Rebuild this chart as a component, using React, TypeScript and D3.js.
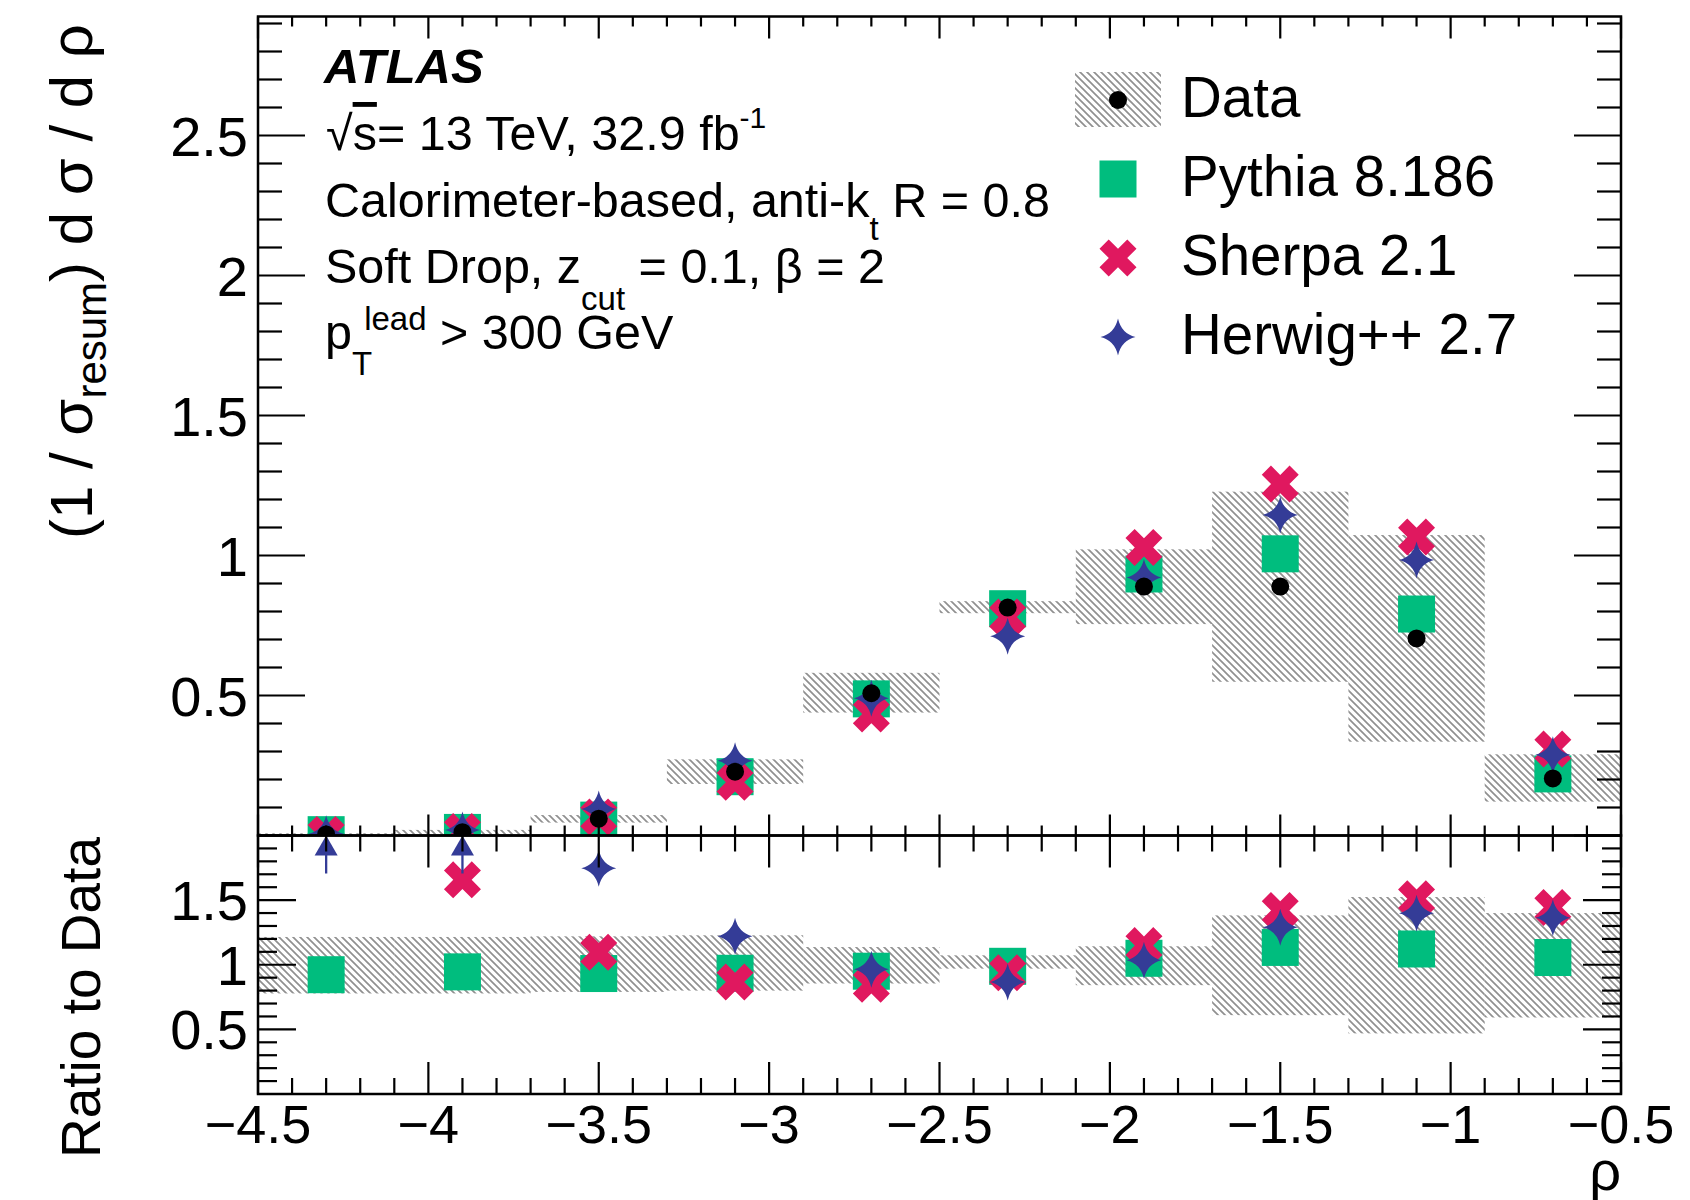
import React from 'react';
import * as d3 from 'd3';

// ---------- data ----------
const binCenters = [-4.3, -3.9, -3.5, -3.1, -2.7, -2.3, -1.9, -1.5, -1.1, -0.7];
const binWidth = 0.4;

const dataValues = [0.004, 0.012, 0.06, 0.228, 0.508, 0.814, 0.889, 0.889, 0.704, 0.204];
const dataLow = [0.002, 0.004, 0.046, 0.184, 0.439, 0.794, 0.755, 0.549, 0.335, 0.121];
const dataHigh = [0.008, 0.02, 0.073, 0.272, 0.581, 0.837, 1.022, 1.228, 1.073, 0.29];

const pythiaValues = [0.003, 0.011, 0.055, 0.21, 0.488, 0.81, 0.934, 1.006, 0.791, 0.22];
const sherpaValues = [0.004, 0.014, 0.066, 0.19, 0.434, 0.78, 1.029, 1.255, 1.066, 0.309];
const herwigValues = [0.006, 0.02, 0.095, 0.267, 0.49, 0.712, 0.921, 1.145, 0.984, 0.288];

const ratioPythia = [0.923, 0.945, 0.932, 0.934, 0.95, 0.988, 1.05, 1.134, 1.122, 1.056];
const ratioSherpa: (number | null)[] = [null, 1.657, 1.097, 0.867, 0.849, 0.938, 1.148, 1.42, 1.511, 1.443];
const ratioHerwig = [2.5, 2.5, 1.747, 1.22, 0.965, 0.867, 1.035, 1.29, 1.398, 1.363];
const ratioLow = [0.778, 0.778, 0.79, 0.8, 0.855, 0.97, 0.842, 0.61, 0.469, 0.592];
const ratioHigh = [1.215, 1.215, 1.22, 1.228, 1.137, 1.073, 1.143, 1.382, 1.524, 1.4];

const xTickLabels = [-4.5, -4, -3.5, -3, -2.5, -2, -1.5, -1, -0.5];
const mainYTickLabels = [0.5, 1, 1.5, 2, 2.5];
const ratioYTickLabels = [0.5, 1, 1.5];
const legendLabels = ['Data', 'Pythia 8.186', 'Sherpa 2.1', 'Herwig++ 2.7'];

// ---------- style ----------
const GREEN = '#00bd7e';
const PINK = '#e0185f';
const BLUE = '#343c97';
const HATCH = '#909090';
const FONT = '"Liberation Sans", Arial, Helvetica, sans-serif';

const W = 1690;
const H = 1200;
const xL = 258;
const xR = 1621;
const mainTop = 16.5;
const mainBot = 835.5;
const ratioBot = 1094;

const x = d3.scaleLinear().domain([-4.5, -0.5]).range([xL, xR]);
const yMain = d3.scaleLinear().domain([0, 2.925]).range([mainBot, mainTop]);
const yRatio = d3.scaleLinear().domain([0, 2]).range([ratioBot, mainBot]);

const fmt = (d: number) => (d < 0 ? '\u2212' : '') + String(Math.abs(d));

// ---------- markers ----------
const Square = ({ cx, cy }: { cx: number; cy: number }) => (
  <rect x={cx - 18.5} y={cy - 18.5} width={37} height={37} fill={GREEN} />
);

const crossPath = (() => {
  const s = 18.5;
  const e = 9.2;
  const pts = [
    [0, -e], [s - e, -s], [s, -s + e], [e, 0], [s, s - e], [s - e, s],
    [0, e], [-s + e, s], [-s, s - e], [-e, 0], [-s, -s + e], [-s + e, -s],
  ];
  return 'M' + pts.map((p) => p.join(',')).join('L') + 'Z';
})();

const Cross = ({ cx, cy }: { cx: number; cy: number }) => (
  <path d={crossPath} transform={`translate(${cx},${cy})`} fill={PINK} />
);

const starPath = (() => {
  const rv = 18.5;
  const rh = 17.5;
  const c = 3.4;
  return `M0,${-rv} Q${c},${-c} ${rh},0 Q${c},${c} 0,${rv} Q${-c},${c} ${-rh},0 Q${-c},${-c} 0,${-rv} Z`;
})();

const Star = ({ cx, cy }: { cx: number; cy: number }) => (
  <path d={starPath} transform={`translate(${cx},${cy})`} fill={BLUE} />
);

const Dot = ({ cx, cy }: { cx: number; cy: number }) => (
  <circle cx={cx} cy={cy} r={9} fill="#000" />
);

// ---------- axes helpers ----------
const range = (a: number, b: number, step: number) => {
  const out: number[] = [];
  const n = Math.round((b - a) / step);
  for (let i = 0; i <= n; i++) out.push(+(a + i * step).toFixed(4));
  return out;
};
const isMajor = (v: number) => Math.abs(v * 2 - Math.round(v * 2)) < 1e-6;

const xTicksAll = range(-4.5, -0.5, 0.1);
const mainYTicksAll = range(0, 2.9, 0.1);
const ratioYTicksAll = range(0, 2, 0.1);

export default function App() {
  const tickStroke = { stroke: '#000', strokeWidth: 2.2 };

  return (
    <svg
      width={W}
      height={H}
      viewBox={`0 0 ${W} ${H}`}
      style={{ position: 'absolute', left: 0, top: 0, background: '#fff', display: 'block' }}
      fontFamily={FONT}
    >
      <defs>
        <pattern id="hatch" patternUnits="userSpaceOnUse" width={7} height={7}>
          <path d="M-1,-1 L8,8 M-1,6 L1,8 M6,-1 L8,1" stroke={HATCH} strokeWidth={1.7} />
        </pattern>
        <clipPath id="clipMain">
          <rect x={xL} y={mainTop} width={xR - xL} height={mainBot - mainTop} />
        </clipPath>
        <clipPath id="clipRatio">
          <rect x={xL} y={mainBot} width={xR - xL} height={ratioBot - mainBot} />
        </clipPath>
      </defs>
      <rect x={0} y={0} width={W} height={H} fill="#fff" />

      {/* ---------- main panel ---------- */}
      <g clipPath="url(#clipMain)">
        {binCenters.map((c, i) => (
          <rect
            key={'mb' + i}
            x={x(c - binWidth / 2)}
            width={x(c + binWidth / 2) - x(c - binWidth / 2)}
            y={yMain(dataHigh[i])}
            height={yMain(dataLow[i]) - yMain(dataHigh[i])}
            fill="url(#hatch)"
          />
        ))}
        {binCenters.map((c, i) => (
          <Square key={'mp' + i} cx={x(c)} cy={yMain(pythiaValues[i])} />
        ))}
        {binCenters.map((c, i) => (
          <Cross key={'ms' + i} cx={x(c)} cy={yMain(sherpaValues[i])} />
        ))}
        {binCenters.map((c, i) => (
          <Star key={'mh' + i} cx={x(c)} cy={yMain(herwigValues[i])} />
        ))}
        {binCenters.map((c, i) => (
          <Dot key={'md' + i} cx={x(c)} cy={yMain(dataValues[i])} />
        ))}
      </g>

      {/* ---------- ratio panel ---------- */}
      <g clipPath="url(#clipRatio)">
        {binCenters.map((c, i) => (
          <rect
            key={'rb' + i}
            x={x(c - binWidth / 2)}
            width={x(c + binWidth / 2) - x(c - binWidth / 2)}
            y={yRatio(ratioHigh[i])}
            height={yRatio(ratioLow[i]) - yRatio(ratioHigh[i])}
            fill="url(#hatch)"
          />
        ))}
        {binCenters.map((c, i) => (
          <Square key={'rp' + i} cx={x(c)} cy={yRatio(ratioPythia[i])} />
        ))}
        {binCenters.map((c, i) =>
          ratioSherpa[i] == null || (ratioSherpa[i] as number) > 2 ? null : (
            <Cross key={'rs' + i} cx={x(c)} cy={yRatio(ratioSherpa[i] as number)} />
          )
        )}
        {binCenters.map((c, i) =>
          ratioHerwig[i] > 2 ? (
            <g key={'rh' + i}>
              <line x1={x(c)} x2={x(c)} y1={mainBot + 18} y2={mainBot + 38} stroke={BLUE} strokeWidth={2.3} />
              <path
                d={`M${x(c)},${mainBot} L${x(c) + 11.5},${mainBot + 20} L${x(c) - 11.5},${mainBot + 20} Z`}
                fill={BLUE}
              />
            </g>
          ) : (
            <Star key={'rh' + i} cx={x(c)} cy={yRatio(ratioHerwig[i])} />
          )
        )}
      </g>

      {/* ---------- frames ---------- */}
      <rect x={xL} y={mainTop} width={xR - xL} height={mainBot - mainTop} fill="none" stroke="#000" strokeWidth={2.5} />
      <rect x={xL} y={mainBot} width={xR - xL} height={ratioBot - mainBot} fill="none" stroke="#000" strokeWidth={2.5} />

      {/* x ticks */}
      {xTicksAll.map((t, i) => {
        const px = x(t);
        const maj = isMajor(t);
        return (
          <g key={'xt' + i} {...tickStroke}>
            <line x1={px} x2={px} y1={mainTop} y2={mainTop + (maj ? 22 : 10)} />
            <line x1={px} x2={px} y1={mainBot} y2={mainBot - (maj ? 21 : 10)} />
            <line x1={px} x2={px} y1={mainBot} y2={mainBot + (maj ? 32 : 16)} />
            <line x1={px} x2={px} y1={ratioBot} y2={ratioBot - (maj ? 32 : 16)} />
          </g>
        );
      })}

      {/* main y ticks */}
      {mainYTicksAll.map((t, i) => {
        const py = yMain(t);
        const len = isMajor(t) ? 47 : 24;
        return (
          <g key={'myt' + i} {...tickStroke}>
            <line x1={xL} x2={xL + len} y1={py} y2={py} />
            <line x1={xR} x2={xR - len} y1={py} y2={py} />
          </g>
        );
      })}

      {/* ratio y ticks */}
      {ratioYTicksAll.map((t, i) => {
        const py = yRatio(t);
        const len = isMajor(t) ? 38 : 19;
        return (
          <g key={'ryt' + i} {...tickStroke}>
            <line x1={xL} x2={xL + len} y1={py} y2={py} />
            <line x1={xR} x2={xR - len} y1={py} y2={py} />
          </g>
        );
      })}

      {/* tick labels */}
      {mainYTickLabels.map((t) => (
        <text key={'myl' + t} x={248} y={yMain(t) + 20} textAnchor="end" fontSize={56}>
          {fmt(t)}
        </text>
      ))}
      {ratioYTickLabels.map((t) => (
        <text key={'ryl' + t} x={248} y={yRatio(t) + 20} textAnchor="end" fontSize={56}>
          {fmt(t)}
        </text>
      ))}
      {xTickLabels.map((t) => (
        <text key={'xl' + t} x={x(t)} y={1143} textAnchor="middle" fontSize={54}>
          {fmt(t)}
        </text>
      ))}

      {/* axis titles */}
      <text x={xR} y={1190} textAnchor="end" fontSize={56}>ρ</text>
      <text transform={`translate(92,24) rotate(-90)`} textAnchor="end" fontSize={60}>
        (1 / σ
        <tspan dy={14} fontSize={42}>resum</tspan>
        <tspan dy={-14}>) d σ / d ρ</tspan>
      </text>
      <text transform={`translate(100,837) rotate(-90)`} textAnchor="end" fontSize={55}>
        Ratio to Data
      </text>

      {/* ATLAS labels */}
      <text x={324} y={83} fontSize={49} fontWeight="bold" fontStyle="italic">ATLAS</text>
      <text x={326} y={150} fontSize={48.5}>
        √<tspan style={{ textDecoration: 'overline' }}>s</tspan>= 13 TeV, 32.9 fb
        <tspan dy={-22} fontSize={30}>-1</tspan>
      </text>
      <text x={325} y={217} fontSize={48.5}>
        Calorimeter-based, anti-k
        <tspan dy={23} fontSize={33}>t</tspan>
        <tspan dy={-23}> R = 0.8</tspan>
      </text>
      <text x={325} y={283} fontSize={48.5}>
        Soft Drop, z
        <tspan dy={27} fontSize={33}>cut</tspan>
        <tspan dy={-27}> = 0.1, β = 2</tspan>
      </text>
      <text x={325} y={349} fontSize={48.5}>
        p
        <tspan dy={26} fontSize={33}>T</tspan>
        <tspan dx={-8} dy={-45} fontSize={33}>lead</tspan>
        <tspan dy={19}> &gt; 300 GeV</tspan>
      </text>

      {/* legend */}
      <rect x={1075} y={72} width={86} height={55} fill="url(#hatch)" />
      <Dot cx={1118} cy={100} />
      <Square cx={1118} cy={179} />
      <Cross cx={1118} cy={258} />
      <Star cx={1118} cy={337} />
      {legendLabels.map((l, i) => (
        <text key={l} x={1181} y={100 + i * 79 + 17} fontSize={56.5}>
          {l}
        </text>
      ))}
    </svg>
  );
}
